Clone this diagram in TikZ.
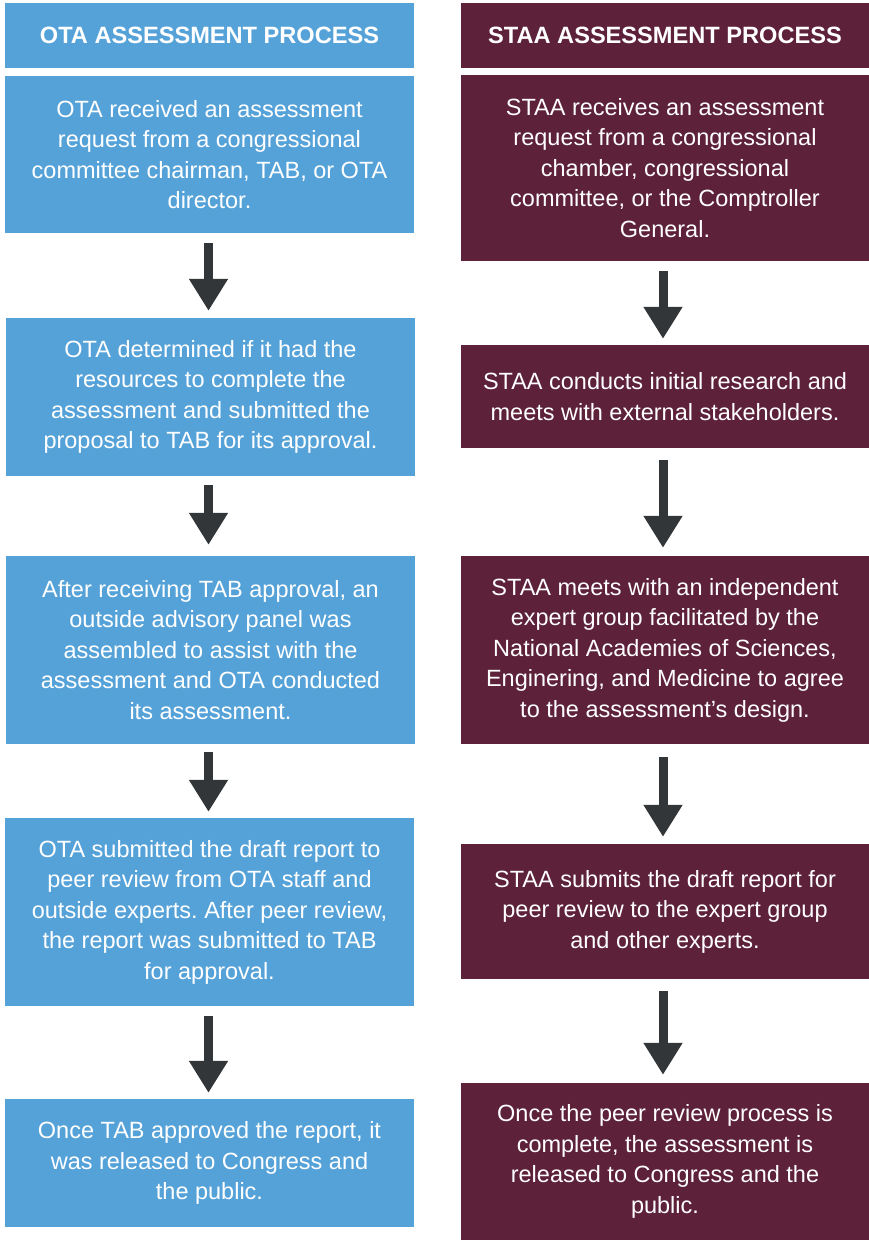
\documentclass[tikz,border=0pt]{standalone}
\usepackage{fontspec}
\setmainfont{Liberation Sans}
\usetikzlibrary{arrows.meta}
\definecolor{otablue}{HTML}{55A2D9}
\definecolor{staamaroon}{HTML}{5D213A}
\definecolor{arrowgray}{HTML}{333639}
\frenchspacing
\begin{document}
\begin{tikzpicture}[x=1pt,y=-1pt,
  boxbase/.style={rectangle, inner sep=0pt, text=white, align=center},
  lbox/.style={boxbase, fill=otablue, minimum width=409pt, font=\frenchspacing\fontsize{23.5}{30.5}\selectfont},
  rbox/.style={boxbase, fill=staamaroon, minimum width=408pt, font=\frenchspacing\fontsize{23.5}{30.5}\selectfont},
  lhead/.style={boxbase, fill=otablue, minimum width=409pt, minimum height=65pt, font=\bfseries\fontsize{23.6}{28}\selectfont},
  rhead/.style={boxbase, fill=staamaroon, minimum width=408pt, minimum height=65pt, font=\bfseries\fontsize{23.6}{28}\selectfont},
  flowarrow/.style={draw=arrowgray, line width=9pt, -{Triangle[width=37pt,length=32pt]}, arrowgray}
]
\useasboundingbox (0,0) rectangle (869,1240);

% Left column
\node[lhead] (LH) at (209.5,35.5) {OTA ASSESSMENT PROCESS};
\node[lbox, minimum height=157pt] (L1) at (209.5,154.5) {OTA received an assessment\\request from a congressional\\committee chairman, TAB, or OTA\\director.};
\node[lbox, minimum height=158pt] (L2) at (210.5,397) {OTA determined if it had the\\resources to complete the\\assessment and submitted the\\proposal to TAB for its approval.};
\node[lbox, minimum height=188pt] (L3) at (210.5,650) {After receiving TAB approval, an\\outside advisory panel was\\assembled to assist with the\\assessment and OTA conducted\\its assessment.};
\node[lbox, minimum height=188pt] (L4) at (209.5,912) {OTA submitted the draft report to\\peer review from OTA staff and\\outside experts. After peer review,\\the report was submitted to TAB\\for approval.};
\node[lbox, minimum height=128pt] (L5) at (209.5,1163) {Once TAB approved the report, it\\was released to Congress and\\the public.};

% Right column
\node[rhead] (RH) at (665,35.5) {STAA ASSESSMENT PROCESS};
\node[rbox, minimum height=186pt] (R1) at (665,168) {STAA receives an assessment\\request from a congressional\\chamber, congressional\\committee, or the Comptroller\\General.};
\node[rbox, minimum height=103pt] (R2) at (665,396.5) {STAA conducts initial research and\\meets with external stakeholders.};
\node[rbox, minimum height=188pt] (R3) at (665,650) {STAA meets with an independent\\expert group facilitated by the\\National Academies of Sciences,\\Enginering, and Medicine to agree\\to the assessment’s design.};
\node[rbox, minimum height=135pt] (R4) at (665,911.5) {STAA submits the draft report for\\peer review to the expert group\\and other experts.};
\node[rbox, minimum height=157pt] (R5) at (665,1161.5) {Once the peer review process is\\complete, the assessment is\\released to Congress and the\\public.};

% Left arrows
\draw[flowarrow, shorten <=10pt, shorten >=7pt] (L1.south -| 208.5,0) -- (L2.north -| 208.5,0);
\draw[flowarrow, shorten <=9pt, shorten >=11pt] (L2.south -| 208.5,0) -- (L3.north -| 208.5,0);
\draw[flowarrow, shorten <=8pt, shorten >=6pt] (L3.south -| 208.5,0) -- (L4.north -| 208.5,0);
\draw[flowarrow, shorten <=10pt, shorten >=6pt] (L4.south -| 208.5,0) -- (L5.north -| 208.5,0);

% Right arrows
\draw[flowarrow, shorten <=10pt, shorten >=6pt] (R1.south -| 663,0) -- (R2.north -| 663,0);
\draw[flowarrow, shorten <=12pt, shorten >=8pt] (R2.south -| 663,0) -- (R3.north -| 663,0);
\draw[flowarrow, shorten <=13pt, shorten >=7pt] (R3.south -| 663,0) -- (R4.north -| 663,0);
\draw[flowarrow, shorten <=12pt, shorten >=8pt] (R4.south -| 663,0) -- (R5.north -| 663,0);
\end{tikzpicture}
\end{document}
